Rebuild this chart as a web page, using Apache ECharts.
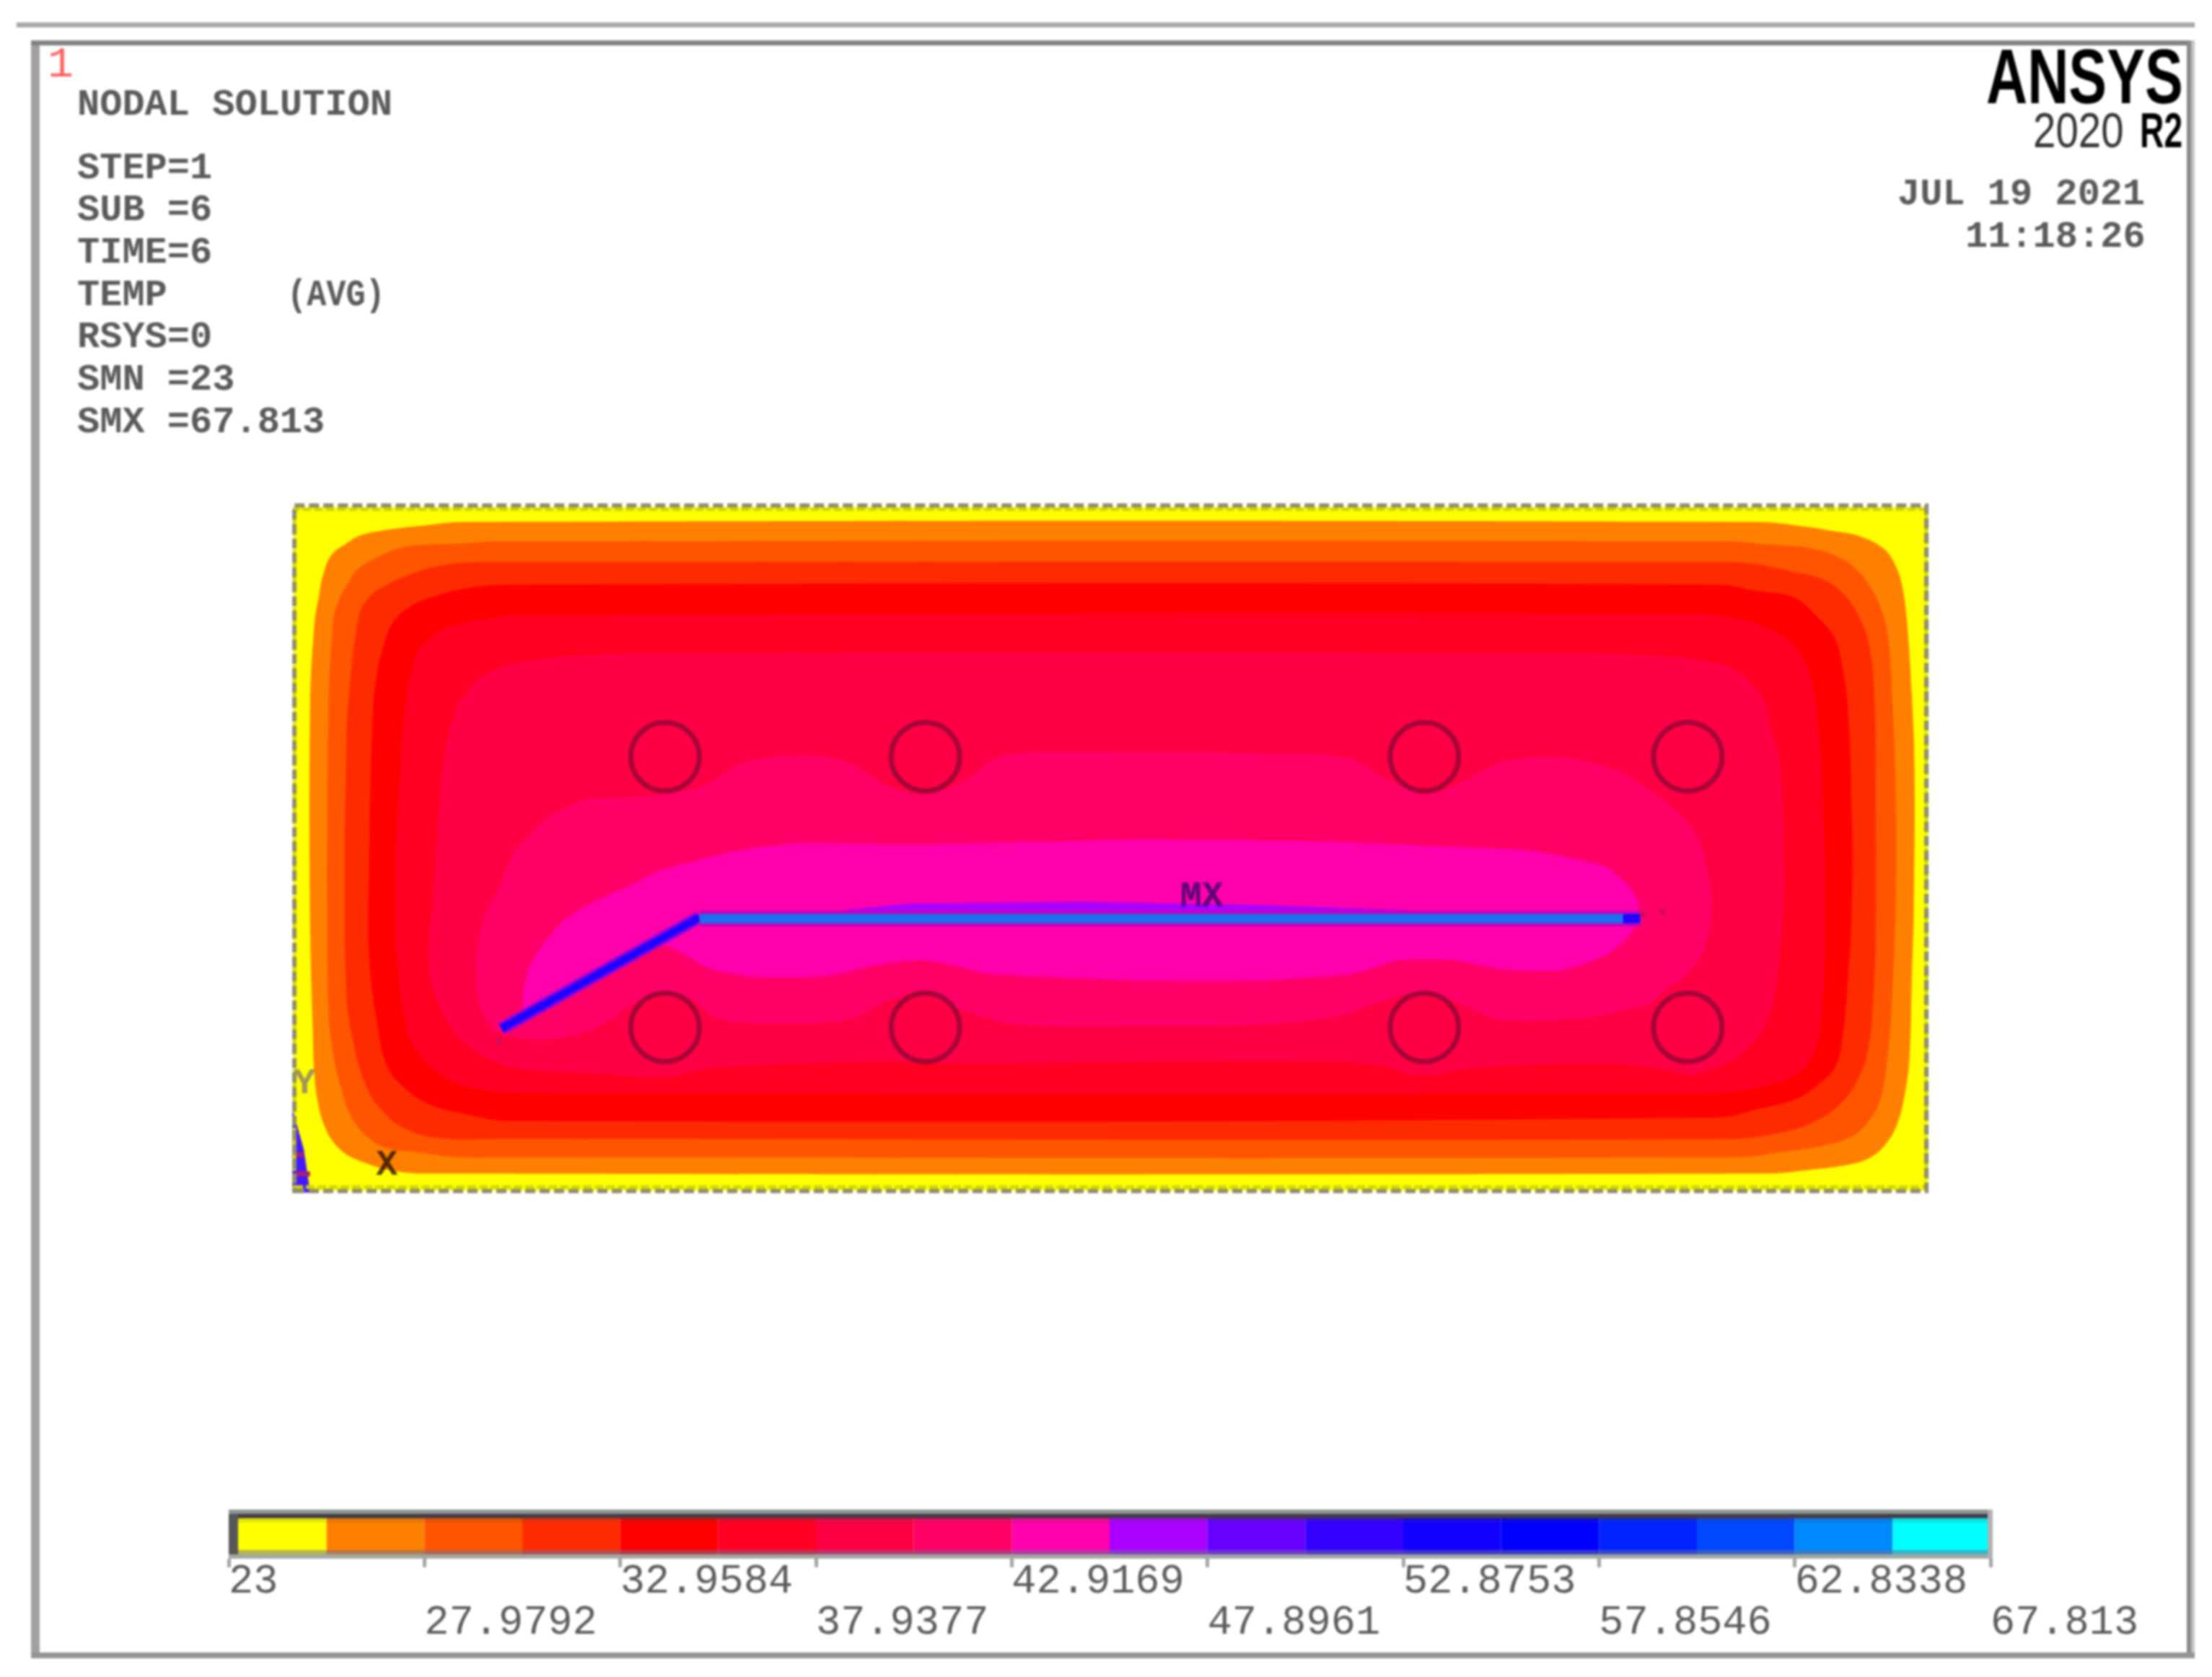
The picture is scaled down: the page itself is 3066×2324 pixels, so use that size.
<!DOCTYPE html>
<html lang="en">
<head>
    <title>ANSYS Nodal Solution</title>
    <meta charset="utf-8">
    <script src="https://cdn.jsdelivr.net/npm/echarts@6/dist/echarts.min.js"></script>
    <style>
        body {
            margin: 0;
            background: #fff;
        }

        #chart {
            width: 3066px;
            height: 2324px;
            filter: blur(1.5px);
        }
    </style>
</head>
<body>
<div id="chart"></div>
<script>
    // colour bar
    const bandEdges = [23, 25.4896, 27.9792, 30.4688, 32.9584, 35.4481, 37.9377, 40.4273, 42.9169, 45.4065,
        47.8961, 50.3857, 52.8753, 55.365, 57.8546, 60.3442, 62.8338, 65.3234, 67.813];
    const upperTicks = [23, 32.9584, 42.9169, 52.8753, 62.8338];
    const lowerTicks = [27.9792, 37.9377, 47.8961, 57.8546, 67.813];
    const allTicks = [23, 27.9792, 32.9584, 37.9377, 42.9169, 47.8961, 52.8753, 57.8546, 62.8338, 67.813];

    // contour regions, plate units (240 x 100), outermost first
    const plate = [[0, 0], [240, 0], [240, 100], [0, 100]];
    const plateEdge = [[0, -0.05], [239.75, -0.05], [239.75, 100.26], [0, 100.26]];
    const plateInner = [[0, 0.53], [239.75, 0.53], [239.75, 99.7], [0, 99.7]];
    const contour28 = [[25.5, 97.85], [18.2, 97.25], [12.93, 96.6], [9.75, 95.9], [7.63, 94.7], [5.51, 93.1], [4.27, 90.3],
        [3.57, 86.8], [2.97, 83.2], [2.33, 71.3], [2.33, 38.7], [2.7, 23.6], [2.97, 16.5], [3.57, 12.3], [4.27, 9.85],
        [5.51, 7.4], [7.63, 5.3], [10.46, 4.05], [14, 3], [18.9, 2.5],
        [216.4, 2.5], [222.4, 3], [228.8, 3.9], [231.6, 4.9], [233.7, 6.7], [235.5, 9.85], [236.7, 14.8], [237.3, 20],
        [237.6, 30.6], [237.9, 41.2], [238, 62.1], [237.6, 72.7], [236.9, 83.2], [236.2, 88.5], [235.1, 91.7],
        [233.4, 94], [229.5, 95.9], [225.6, 96.6], [222.2, 97.15], [214.6, 97.85]];
    const contour30 = [[30.2, 95], [24.2, 94.7], [18.9, 94.5], [15.4, 94], [12.2, 92.7], [9.4, 91], [7.63, 88.5], [6.39, 86.1],
        [5.69, 83.2], [4.98, 69.2], [4.98, 27.1], [5.69, 20.1], [6.92, 14.8], [8.34, 10.9], [10.46, 8.1], [13.3, 6.3],
        [18.2, 5.6], [23.9, 4.9], [30.2, 4.85],
        [212.2, 4.9], [218.2, 5.6], [225.2, 6.7], [229.1, 8.1], [231.6, 10.6], [233, 13.4], [234.1, 20], [234.8, 29.9],
        [235.3, 44.7], [235.3, 55], [234.8, 70.9], [234.1, 81.1], [233, 85.4], [231.6, 88.2], [229.8, 90.6], [227, 92.6],
        [222.8, 94], [217.5, 94.5], [209.7, 95]];
    const contour33 = [[34.5, 92], [24.95, 91.9], [20.35, 91.2], [16.8, 90.1], [13.3, 88.5], [11.2, 87.1], [9.75, 85],
        [9.04, 81.5], [8.34, 76.2], [7.63, 65.6], [7.63, 28.9], [9.04, 20], [10.46, 15.5], [12.6, 12], [16.1, 9.15],
        [21.1, 7.7], [30.95, 7.6],
        [210.4, 7.55], [218.2, 8.45], [223.5, 10.2], [227.4, 13], [229.8, 16.5], [231.2, 20.8], [231.9, 27.1],
        [232.3, 37.7], [232.3, 55], [232.1, 72.7], [231.2, 80.4], [229.5, 84.6], [227.4, 87.5], [224.2, 89.6],
        [219.9, 90.6], [214.6, 91.7], [209.7, 92]];
    const contour35 = [[32, 88.7], [25.65, 88.2], [20.35, 86.9], [16.8, 85.35], [14.3, 82.9], [13.1, 79.7], [12.2, 76.2],
        [11.5, 69.2], [10.99, 48], [10.99, 34.1], [12.2, 24.3], [13.6, 18.3], [16.1, 15.1], [19.65, 12.7], [24.6, 11.3],
        [31.66, 10.2],
        [209, 10.7], [215.3, 12], [220.6, 13.4], [223.8, 15.5], [226.3, 17.95], [227.4, 22.2], [228.2, 30.6], [228.8, 41.2],
        [228.8, 55], [228.2, 70.9], [227.5, 76.2], [226.3, 80.8], [223.8, 83.9], [220.3, 86.8], [214.6, 87.8], [209, 88.7]];
    const contour38 = [[36.25, 84.3], [29.2, 83.9], [23.9, 82.9], [20.7, 81.5], [18.2, 79], [17.2, 76.2], [16.5, 72.7],
        [15.76, 65.6], [14.9, 48], [15.05, 34.1], [16.5, 23.6], [18.2, 20], [21.1, 17.2], [25.65, 15.1], [34.5, 14.25],
        [207.6, 14.25], [215.3, 15.1], [221, 17.2], [223.5, 20.8], [224.5, 27.1], [224.9, 37.7], [224.9, 48], [223.8, 69.2],
        [222.4, 76.2], [220.3, 79.7], [217.5, 81.8], [212.5, 83.6], [204, 84.5]];
    const contour40 = [[52.2, 78.7], [41.5, 78.3], [32.7, 77.2], [28.5, 75.85], [25.3, 73], [23.5, 69.9], [21.8, 62.1],
        [20.7, 48], [20.2, 41.2], [19.6, 34.1], [20.7, 28.5], [23.2, 23.6], [26, 20.8], [31, 18.3], [38, 17.4], [45, 17.1],
        [54.6, 16.6], [61.1, 17.9], [86.2, 18.9], [92.7, 18.6], [150.9, 18.9], [159.7, 18.2], [165.8, 16.8], [172.9, 17.9],
        [190.4, 18.6], [197, 18.3], [201.6, 17.6], [204.7, 16.9], [208.3, 17.8], [211.1, 19], [213.9, 21.1], [215.7, 23.6],
        [217.1, 27.1], [218.2, 34.1], [218.9, 44.7], [218.9, 48], [218.3, 62.1], [217.1, 67.4], [215.3, 72.7], [211.8, 76.2],
        [206.9, 77.6], [200.5, 78.3], [186, 78.7]];
    const contour43 = [[52.2, 57.7], [43.7, 57.4], [39.8, 56.1], [36.6, 54], [34.3, 51.8], [32, 48.9], [29.9, 44], [28.1, 40.5],
        [27, 36.6], [26.7, 32.4], [27.1, 27.8], [28.5, 24.6], [30.25, 22.9], [34.5, 22.2], [38, 22.2], [42.6, 23.2], [46.5, 25],
        [49, 26.8], [52.2, 28.6], [54.4, 29.3], [57.9, 28.3], [61.9, 25.3], [70, 24.4], [81.4, 25], [87.1, 27.7], [92.7, 29],
        [98.4, 26.3], [106.5, 24.3], [124.5, 24], [142.1, 24.3], [153.5, 25.6], [159.7, 27.7], [165.8, 29], [172, 27],
        [177.2, 25], [189.9, 25.3], [195.2, 26.4], [199.1, 27.4], [201.6, 29.6], [204, 31], [206.5, 34.1], [207.7, 37.7],
        [208.3, 42.9], [207.2, 48], [206.5, 50.8], [204.7, 54], [201.9, 56.5], [199.1, 58.6], [194.5, 61.4], [186, 63.4],
        [177.2, 62.7], [172, 60], [166.3, 58], [159.7, 60.7], [154.4, 63.4], [142.1, 64], [124.5, 64.2], [104.1, 63.7],
        [98.4, 60], [92.7, 57.9], [87.1, 59.3], [81.4, 62.7], [74.9, 63.7], [66, 62.7], [60.3, 59.3]];
    const contour45 = [[30.4, 23.6], [33.4, 26.4], [33.6, 28.9], [34.5, 32.7], [36.6, 36.2], [39.4, 39.4], [42.6, 41.5],
        [46.1, 43.3], [50, 45], [53.8, 46.9], [64.3, 49.6], [74.1, 50.9], [90.3, 50.7], [110.6, 51.1], [124.5, 51.4],
        [150.9, 51.1], [168.5, 50.4], [181.6, 49.8], [189.9, 48.2], [193.1, 47.2], [195.6, 45], [197.3, 42.6], [197.5, 40.5],
        [196.6, 38], [195.2, 36.3], [192.7, 34.5], [189.9, 33.3], [185.2, 32.1], [177.2, 32.4], [170.2, 33.7], [162.3, 33.7],
        [155.3, 31.7], [142.1, 30.7], [124.5, 30.7], [102.5, 31.7], [92.7, 33.7], [86.2, 33.1], [78.1, 31.4], [68.4, 31.2],
        [61.1, 32.4], [53.8, 35.8]];
    const contour48 = [[74.1, 40.4], [90.3, 42], [115.7, 42.3], [142.1, 41.8], [175.5, 40.6]];
    const triad = [[-0.3, 12], [-0.3, -0.3], [2.33, -0.3], [1.4, 6]];
    const triadMarkA = [[0.2, 5.6], [1.3, 5.6], [1.3, 4.9], [0.2, 4.9]];
    const triadMarkB = [[0.2, 2.8], [2.3, 2.8], [2.3, 2.1], [0.2, 2.1]];

    const crackSlant = [[59.5, 40], [30.4, 23.7]];
    const crackFlat = [[59.5, 39.8], [197.7, 39.8]];
    const crackEnd = [[195.2, 39.8], [197.7, 39.8]];
    const strayNodes = [[201, 40.8], [198.1, 40.5], [30.1, 21.8]];

    const holeX = [54.45, 92.7, 166, 204.7];
    const holeY = [63.5, 23.9];

    const nodeNames = ['MX', 'MN', 'X', 'Y'];
    const nodeX = [133.3, 243.1, 13.6, 1.5];
    const nodeY = [42.9, 31.9, 3.7, 15.6];

    const headerLines = ['NODAL SOLUTION', 'STEP=1', 'SUB =6', 'TIME=6', 'TEMP', 'RSYS=0', 'SMN =23', 'SMX =67.813'];

    const bandColors = ['#ffff00', '#ff8000', '#ff5500', '#ff2b00', '#ff0000', '#ff0022', '#ff0044', '#ff0066', '#ff00aa',
        '#aa00ff', '#6600ff', '#3300ff', '#1100ff', '#0000ff', '#0022ff', '#0048ff', '#0088ff', '#00ffff'];
    const nodeColors = ['#34006a', '#4a4a55', '#2a1000', '#8c7a70'];

    const regions = [
        { points: plate, fill: '#ffff00' },
        { points: contour28, fill: '#ff8000', smooth: 0.4 },
        { points: contour30, fill: '#ff5500', smooth: 0.4 },
        { points: contour33, fill: '#ff2b00', smooth: 0.4 },
        { points: contour35, fill: '#ff0000', smooth: 0.4 },
        { points: contour38, fill: '#ff0022', smooth: 0.4 },
        { points: contour40, fill: '#ff0044', smooth: 0.4 },
        { points: contour43, fill: '#ff0066', smooth: 0.3 },
        { points: contour45, fill: '#ff00aa', smooth: 0.2 },
        { points: contour48, fill: '#aa00ff' },
        { points: triad, fill: '#4418ff' },
        { points: triadMarkA, fill: '#a82070' },
        { points: triadMarkB, fill: '#a82070' }
    ];

    function textItem(text, x, y, font, fill, extra) {
        return Object.assign({
            type: 'text',
            x: x,
            y: y,
            silent: true,
            z: 20,
            style: {
                text: text,
                font: font,
                fill: fill,
                textAlign: 'left',
                textVerticalAlign: 'middle'
            }
        }, extra || {});
    }

    function rectItem(x, y, width, height, fill) {
        return {
            type: 'rect',
            silent: true,
            z: 15,
            shape: { x: x, y: y, width: width, height: height },
            style: { fill: fill }
        };
    }

    function outlineSeries(points, stroke, width, dash, z) {
        return {
            type: 'custom',
            xAxisIndex: 0,
            yAxisIndex: 0,
            silent: true,
            z: z,
            data: [[0]],
            encode: { x: -1, y: -1 },
            renderItem: function (params, api) {
                return {
                    type: 'polygon',
                    shape: { points: points.map(function (p) { return api.coord(p); }) },
                    style: { fill: 'none', stroke: stroke, lineWidth: width, lineDash: dash }
                };
            }
        };
    }

    function crackSeries(data, color, width, z) {
        return {
            type: 'line', xAxisIndex: 0, yAxisIndex: 0, data: data, silent: true, z: z,
            showSymbol: false, lineStyle: { color: color, width: width, cap: 'butt' }
        };
    }

    const monoFont = 'bold 52px "Liberation Mono"';
    const headerY = [146, 234, 292, 351, 410, 468, 527, 586];
    const graphics = headerLines.map(function (line, i) {
        return textItem(line, 107, headerY[i], monoFont, '#5a5a5a');
    });
    graphics.push(textItem('(AVG)', 398, 410, monoFont, '#5a5a5a', { scaleX: 0.87 }));
    graphics.push(textItem('1', 66, 90, '60px "Liberation Mono"', '#ff5f5f'));
    graphics.push(textItem('JUL 19 2021', 2630, 270, monoFont, '#5a5a5a'));
    graphics.push(textItem('11:18:26', 2724, 329, monoFont, '#5a5a5a'));
    graphics.push(textItem('ANSYS', 2753, 113, 'bold 107px "Liberation Sans"', '#000', { scaleX: 0.74 }));
    graphics.push(textItem('2020', 2818, 185, '68px "Liberation Sans"', '#333', { scaleX: 0.83 }));
    graphics.push(textItem('R2', 2966, 185, 'bold 68px "Liberation Sans"', '#000', { scaleX: 0.68 }));

    // page lines and window frame
    graphics.push(rectItem(23, 31, 3019, 7, '#a8a8a8'));
    graphics.push(rectItem(43, 56, 12, 2241, '#a0a0a0'));
    graphics.push(rectItem(43, 56, 2999, 7, '#828282'));
    graphics.push(rectItem(3031, 56, 6, 2241, '#8a8a8a'));
    graphics.push(rectItem(3037, 56, 5, 2241, '#c4c4c4'));
    graphics.push(rectItem(43, 2290, 2999, 8, '#949494'));

    // colour bar rims
    graphics.push(rectItem(317, 2092, 2442, 6, '#8c9494'));
    graphics.push(rectItem(317, 2098, 2442, 6, '#443c44'));
    graphics.push(rectItem(317, 2104, 2442, 6, 'rgba(70,70,70,0.14)'));
    graphics.push(rectItem(317, 2148, 2442, 6, 'rgba(110,110,150,0.5)'));
    graphics.push(rectItem(317, 2154, 2442, 6, '#a0a8a0'));
    graphics.push(rectItem(317, 2098, 13, 56, '#55555a'));
    graphics.push(rectItem(2755, 2092, 7, 68, '#b0b0b0'));

    const chart = echarts.init(document.getElementById('chart'));
    const option = {
        animation: false,
        backgroundColor: '#fff',
        grid: [
            { left: 408, top: 703, width: 2264.5, height: 947 },
            { left: 317, top: 2104, width: 2442, height: 56 }
        ],
        xAxis: [
            { type: 'value', gridIndex: 0, min: 0, max: 240, show: false },
            {
                type: 'value', gridIndex: 1, min: 23, max: 67.813, position: 'bottom',
                axisLine: { show: false },
                splitLine: { show: false },
                axisTick: { customValues: allTicks, length: 12, lineStyle: { color: '#a4a4a4', width: 5 } },
                axisLabel: {
                    customValues: upperTicks,
                    formatter: function (v) { return String(v); },
                    align: 'left', margin: 3,
                    color: '#5a5a5a', fontFamily: 'Liberation Mono', fontSize: 57
                }
            },
            {
                type: 'value', gridIndex: 1, min: 23, max: 67.813, position: 'bottom',
                axisLine: { show: false },
                splitLine: { show: false },
                axisTick: { show: false },
                axisLabel: {
                    customValues: lowerTicks,
                    formatter: function (v) { return String(v); },
                    align: 'left', margin: 60,
                    color: '#5a5a5a', fontFamily: 'Liberation Mono', fontSize: 57
                }
            }
        ],
        yAxis: [
            { type: 'value', gridIndex: 0, min: 0, max: 100, show: false },
            { type: 'value', gridIndex: 1, min: 0, max: 1, show: false }
        ],
        graphic: graphics,
        series: [
            {
                type: 'custom',
                xAxisIndex: 0,
                yAxisIndex: 0,
                silent: true,
                z: 1,
                data: regions.map(function (r, i) { return [i]; }),
                encode: { x: -1, y: -1 },
                renderItem: function (params, api) {
                    const region = regions[api.value(0)];
                    return {
                        type: 'polygon',
                        shape: {
                            points: region.points.map(function (p) { return api.coord(p); }),
                            smooth: region.smooth || 0
                        },
                        style: { fill: region.fill }
                    };
                }
            },
            crackSeries(crackSlant, '#a000d8', 18, 2),
            crackSeries(crackFlat, '#c800b8', 22, 2),
            crackSeries(crackSlant, '#2200ff', 11, 3),
            crackSeries(crackFlat, '#1a70f0', 13, 3),
            crackSeries(crackEnd, '#2200ff', 13, 3),
            {
                type: 'scatter', xAxisIndex: 0, yAxisIndex: 0, silent: true, z: 3,
                symbolSize: 9,
                itemStyle: { color: '#c4105c' },
                data: strayNodes
            },
            {
                type: 'scatter', xAxisIndex: 0, yAxisIndex: 0, silent: true, z: 4,
                symbol: 'circle', symbolSize: 95,
                itemStyle: { color: 'rgba(0,0,0,0)', borderColor: '#8e0636', borderWidth: 7 },
                data: holeX.flatMap(function (x) {
                    return holeY.map(function (y) { return [x, y]; });
                })
            },
            outlineSeries(plateInner, '#d6d600', 5, [12, 4], 5),
            outlineSeries(plateEdge, '#8e8e6a', 6, [14, 6], 5),
            {
                type: 'scatter', xAxisIndex: 0, yAxisIndex: 0, silent: true, z: 6,
                symbolSize: 1,
                itemStyle: { color: 'rgba(0,0,0,0)' },
                data: nodeNames.map(function (name, i) {
                    return {
                        name: name,
                        value: [nodeX[i], nodeY[i]],
                        label: { color: nodeColors[i] }
                    };
                }),
                label: {
                    show: true,
                    position: 'inside',
                    align: 'center',
                    verticalAlign: 'middle',
                    formatter: '{b}',
                    fontFamily: 'Liberation Mono',
                    fontWeight: 'bold',
                    fontSize: 50
                }
            },
            {
                type: 'custom',
                xAxisIndex: 1,
                yAxisIndex: 1,
                silent: true,
                z: 2,
                data: bandEdges.slice(0, -1).map(function (edge, i) { return [edge, bandEdges[i + 1], i]; }),
                encode: { x: [0, 1], y: -1 },
                renderItem: function (params, api) {
                    const a = api.coord([api.value(0), 0]);
                    const b = api.coord([api.value(1), 1]);
                    return {
                        type: 'rect',
                        shape: { x: a[0], y: b[1], width: b[0] - a[0], height: a[1] - b[1] },
                        style: { fill: bandColors[api.value(2)] }
                    };
                }
            }
        ]
    };
    chart.setOption(option);
</script>
</body>
</html>
